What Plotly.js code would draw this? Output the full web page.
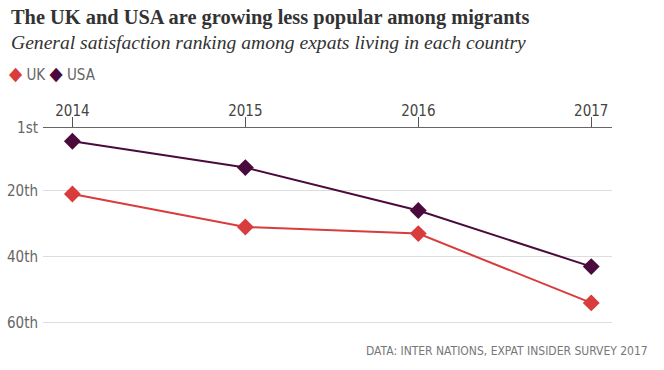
<!DOCTYPE html>
<html>
<head>
<meta charset="utf-8">
<script src="https://cdn.plot.ly/plotly-3.0.1.min.js"></script>
<style>
html,body{margin:0;padding:0;background:#fff;}
#chart{width:664px;height:370px;}
</style>
</head>
<body>
<div id="chart"></div>
<script>
const years = [2014, 2015, 2016, 2017];
const ukRank = [21, 31, 33, 54];
const usaRank = [5, 13, 26, 43];
const yTickVals = [1, 20, 40, 60];
const yTickText = ['1st', '20th', '40th', '60th'];
const seriesNames = ['UK', 'USA'];

const ukColor = '#d93c3c';
const usaColor = '#4a0b3c';
const condFont = '"Liberation Sans Narrow", "DejaVu Sans Condensed", "Roboto Condensed", Roboto, sans-serif';
const serifFont = '"Liberation Serif", "DejaVu Serif", Georgia, serif';

const traces = [
  {x: years, y: ukRank, name: seriesNames[0], mode: 'lines+markers', type: 'scatter',
   line: {color: ukColor, width: 2}, marker: {symbol: 'diamond', size: 13, color: ukColor}, cliponaxis: false},
  {x: years, y: usaRank, name: seriesNames[1], mode: 'lines+markers', type: 'scatter',
   line: {color: usaColor, width: 2}, marker: {symbol: 'diamond', size: 13, color: usaColor}, cliponaxis: false}
];

const layout = {
  width: 664, height: 370,
  margin: {l: 43, r: 52, t: 128, b: 44},
  paper_bgcolor: '#fff', plot_bgcolor: '#fff',
  showlegend: false,
  font: {family: condFont, color: '#555', size: 14},
  xaxis: {
    side: 'top', range: [2013.83, 2017.12], tickvals: years, ticktext: years.map(String),
    showgrid: false, zeroline: false, showline: true, linecolor: '#666', linewidth: 1,
    ticks: 'outside', ticklen: 10, tickcolor: '#555', tickwidth: 1, ticklabelstandoff: -5,
    tickfont: {family: condFont, size: 15, color: '#444'}, fixedrange: true
  },
  yaxis: {
    range: [61, 1], tickvals: yTickVals, ticktext: yTickText,
    showgrid: true, gridcolor: '#dddddd', gridwidth: 1, zeroline: false, showline: false,
    ticks: '', ticklabelstandoff: 4,
    tickfont: {family: condFont, size: 15, color: '#666'}, fixedrange: true
  },
  annotations: [
    {xref: 'paper', yref: 'paper', x: 1.066, y: -0.126, xanchor: 'right', yanchor: 'middle', showarrow: false,
     text: 'DATA: INTER NATIONS, EXPAT INSIDER SURVEY 2017', font: {family: condFont, size: 12, color: '#777'}},
    {xref: 'paper', yref: 'paper', x: -0.063, y: 1.278, xanchor: 'left', yanchor: 'middle', showarrow: false,
     text: '<span style="color:' + ukColor + ';font-size:19px">◆</span> ' + seriesNames[0] + ' <span style="color:' + usaColor + ';font-size:19px">◆</span> ' + seriesNames[1],
     font: {family: condFont, size: 15, color: '#666'}},
    {xref: 'paper', yref: 'paper', x: -0.06, y: 1.556, xanchor: 'left', yanchor: 'middle', showarrow: false,
     text: '<b>The UK and USA are growing less popular among migrants</b>',
     font: {family: serifFont, size: 20.4, color: '#333'}},
    {xref: 'paper', yref: 'paper', x: -0.06, y: 1.434, xanchor: 'left', yanchor: 'middle', showarrow: false,
     text: '<i>General satisfaction ranking among expats living in each country</i>',
     font: {family: serifFont, size: 19.6, color: '#333'}}
  ]
};

Plotly.newPlot('chart', traces, layout, {displayModeBar: false, staticPlot: true});
</script>
</body>
</html>
